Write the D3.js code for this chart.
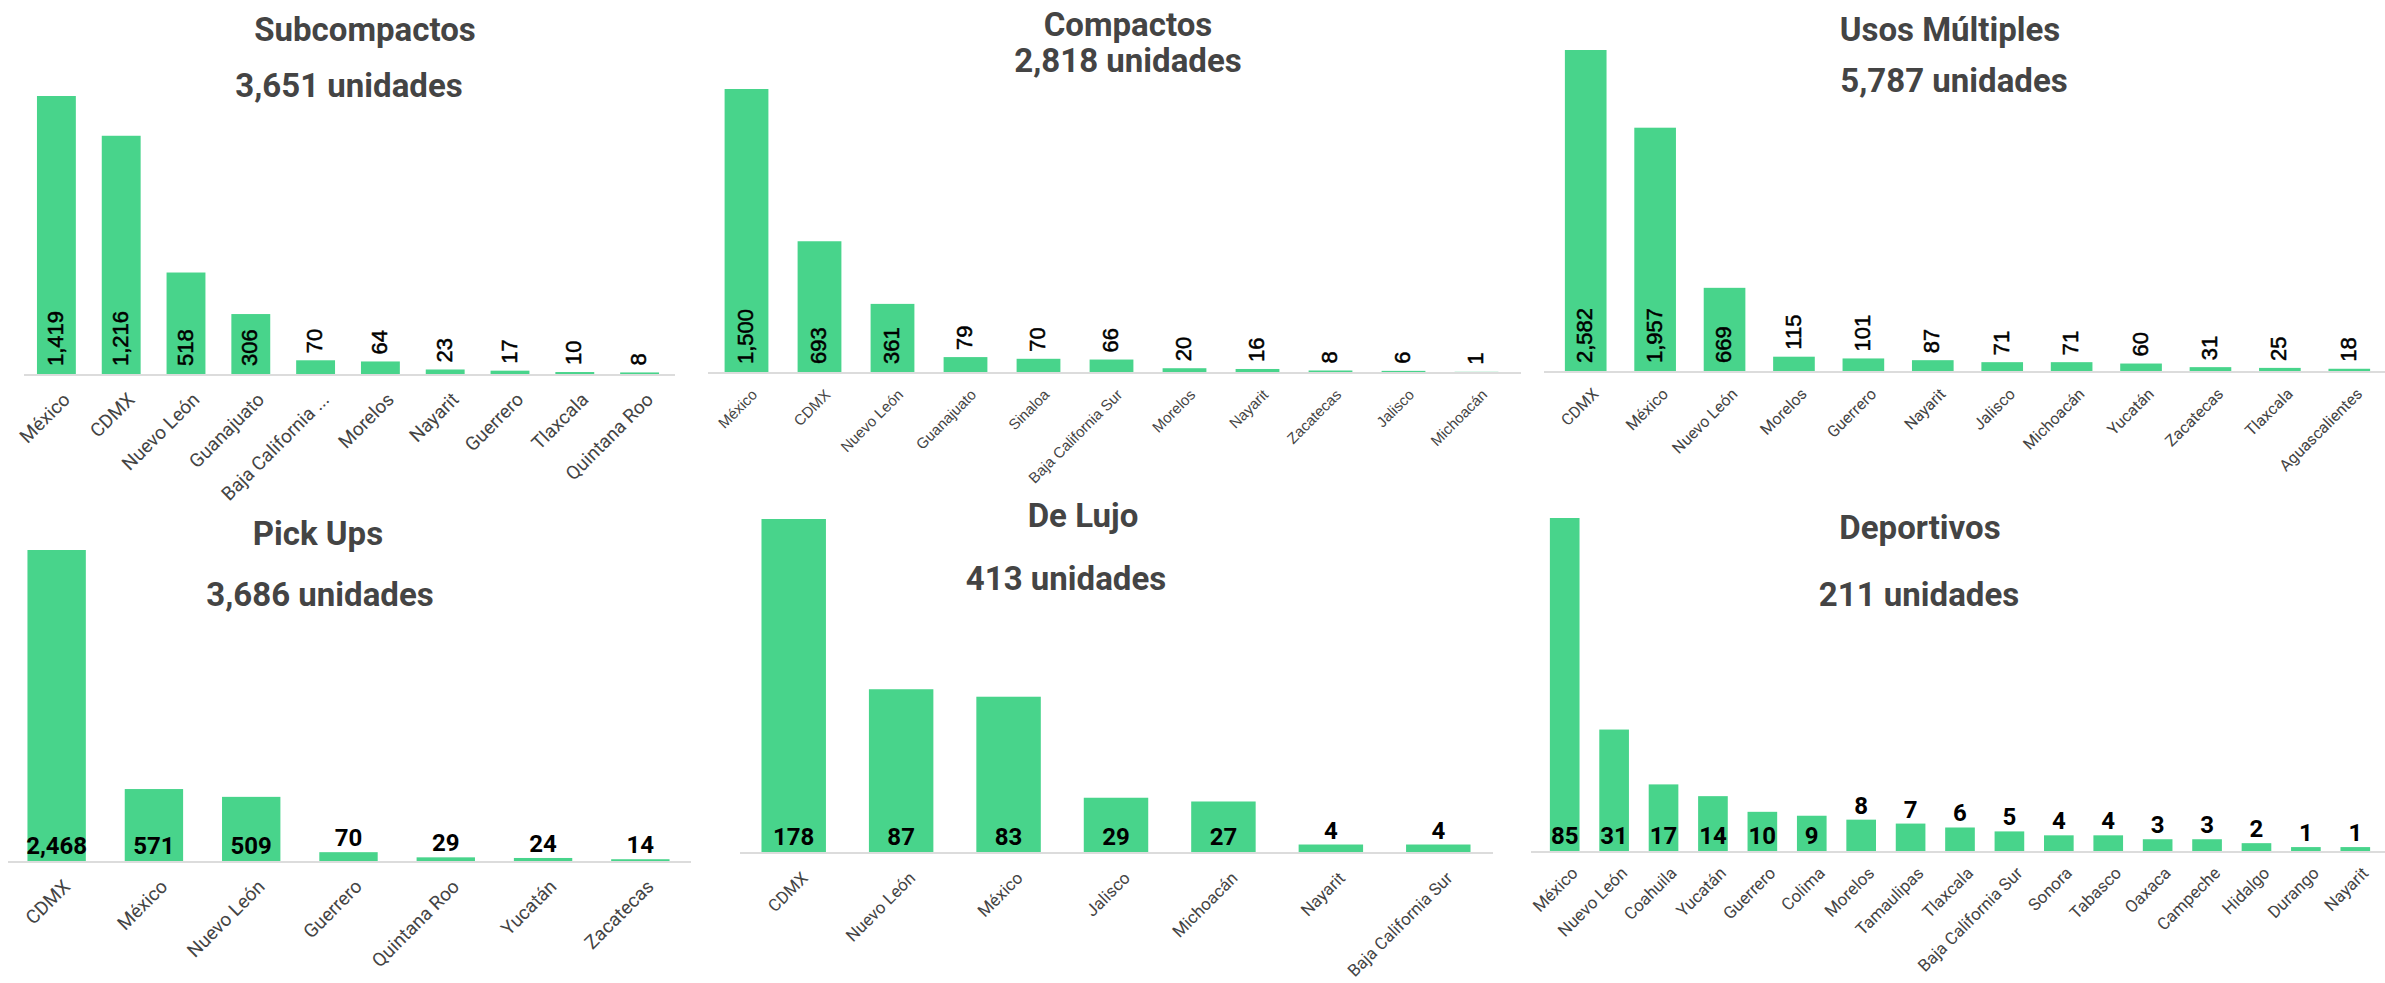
<!DOCTYPE html>
<html>
<head>
<meta charset="utf-8">
<script src="https://cdn.jsdelivr.net/npm/d3@7/dist/d3.min.js"></script>
<style>
body{ margin:0; background:#fff; }
svg text{ font-family: Roboto, sans-serif; }
.title{ font-weight:700; fill:#444; }
.cat{ fill:#444; }
.val{ fill:#000; }
</style>
</head>
<body>
<svg></svg>
<script>
// datos
var subcompactosCats = ["México","CDMX","Nuevo León","Guanajuato","Baja California ...","Morelos","Nayarit","Guerrero","Tlaxcala","Quintana Roo"];
var subcompactosVals = [1419,1216,518,306,70,64,23,17,10,8];

var compactosCats = ["México","CDMX","Nuevo León","Guanajuato","Sinaloa","Baja California Sur","Morelos","Nayarit","Zacatecas","Jalisco","Michoacán"];
var compactosVals = [1500,693,361,79,70,66,20,16,8,6,1];

var usosCats = ["CDMX","México","Nuevo León","Morelos","Guerrero","Nayarit","Jalisco","Michoacán","Yucatán","Zacatecas","Tlaxcala","Aguascalientes"];
var usosVals = [2582,1957,669,115,101,87,71,71,60,31,25,18];

var pickupsCats = ["CDMX","México","Nuevo León","Guerrero","Quintana Roo","Yucatán","Zacatecas"];
var pickupsVals = [2468,571,509,70,29,24,14];

var lujoCats = ["CDMX","Nuevo León","México","Jalisco","Michoacán","Nayarit","Baja California Sur"];
var lujoVals = [178,87,83,29,27,4,4];

var deportivosCats = ["México","Nuevo León","Coahuila","Yucatán","Guerrero","Colima","Morelos","Tamaulipas","Tlaxcala","Baja California Sur","Sonora","Tabasco","Oaxaca","Campeche","Hidalgo","Durango","Nayarit"];
var deportivosVals = [85,31,17,14,10,9,8,7,6,5,4,4,3,3,2,1,1];

var titles = ["Subcompactos","Compactos","Usos Múltiples","Pick Ups","De Lujo","Deportivos"];
var totals = ["3,651 unidades","2,818 unidades","5,787 unidades","3,686 unidades","413 unidades","211 unidades"];

var width = 2385, height = 983;
var green = "#48d48b";
var fmt = d3.format(",");

var svg = d3.select("svg").attr("width", width).attr("height", height);

// layout of each panel
var panels = [
  {cats: subcompactosCats, vals: subcompactosVals, x0: 24, x1: 672, ax0: 24, ax1: 675, base: 374, top: 96,
   tx: 365, ty: 41, sx: 349, sy: 97, rot: true, catFont: "Roboto", catSize: 19, cdx: 10, cdy: 22},
  {cats: compactosCats, vals: compactosVals, x0: 710, x1: 1513, ax0: 708, ax1: 1521, base: 372, top: 89,
   tx: 1128, ty: 36, sx: 1128, sy: 72, rot: true, catFont: "Liberation Sans", catSize: 15, cdx: 8, cdy: 20},
  {cats: usosCats, vals: usosVals, x0: 1551, x1: 2384, ax0: 1544, ax1: 2385, base: 371, top: 50,
   tx: 1950, ty: 41, sx: 1954, sy: 92, rot: true, catFont: "Roboto", catSize: 16, cdx: 10, cdy: 20},
  {cats: pickupsCats, vals: pickupsVals, x0: 8, x1: 689, ax0: 8, ax1: 691, base: 861, top: 550,
   tx: 318, ty: 545, sx: 320, sy: 606, rot: false, catFont: "Roboto", catSize: 19, cdx: 10, cdy: 22},
  {cats: lujoCats, vals: lujoVals, x0: 740, x1: 1492, ax0: 740, ax1: 1493, base: 852, top: 519,
   tx: 1083, ty: 527, sx: 1066, sy: 590, rot: false, catFont: "Roboto", catSize: 17, cdx: 11, cdy: 23},
  {cats: deportivosCats, vals: deportivosVals, x0: 1540, x1: 2380, ax0: 1531, ax1: 2385, base: 851, top: 518,
   tx: 1920, ty: 539, sx: 1919, sy: 606, rot: false, catFont: "Roboto", catSize: 17, cdx: 10, cdy: 19}
];

panels.forEach(function(p, i) {
  var g = svg.append("g");
  var data = p.cats.map(function(c, j) { return {cat: c, val: p.vals[j]}; });

  var x = d3.scaleBand().domain(p.cats).range([p.x0, p.x1])
      .paddingInner(0.4).paddingOuter(0.2);
  var y = d3.scaleLinear().domain([0, d3.max(p.vals)]).range([p.base, p.top]);

  g.append("line")
    .attr("x1", p.ax0).attr("x2", p.ax1)
    .attr("y1", p.base + 1).attr("y2", p.base + 1)
    .style("stroke", "#dcdcdc").style("stroke-width", 2);

  g.selectAll("rect").data(data).enter().append("rect")
    .attr("x", function(d) { return x(d.cat); })
    .attr("y", function(d) { return y(d.val); })
    .attr("width", x.bandwidth())
    .attr("height", function(d) { return p.base - y(d.val); })
    .style("fill", green);

  // value labels
  var vl = g.selectAll("text.val").data(data).enter().append("text")
    .attr("class", "val")
    .text(function(d) { return fmt(d.val); });

  if (p.rot) {
    vl.style("font-family", "'Liberation Sans', Arial, sans-serif")
      .style("font-size", "22px")
      .style("stroke", "#000").style("stroke-width", 0.5)
      .attr("dy", "0.3em")
      .attr("text-anchor", "start")
      .attr("transform", function(d) {
        var len = this.getComputedTextLength();
        var h = p.base - y(d.val);
        var yy = h >= len + 12 ? p.base - 8 : y(d.val) - 7;
        return "translate(" + (x(d.cat) + x.bandwidth() / 2) + "," + yy + ") rotate(-90)";
      });
  } else {
    vl.style("font-size", "24px")
      .style("font-weight", 700)
      .attr("text-anchor", "middle")
      .attr("x", function(d) { return x(d.cat) + x.bandwidth() / 2; })
      .attr("y", function(d) {
        var h = p.base - y(d.val);
        return h > 33 ? p.base - 7 : y(d.val) - 6;
      });
  }

  // category labels
  g.selectAll("text.cat").data(data).enter().append("text")
    .attr("class", "cat")
    .style("font-family", p.catFont)
    .style("font-size", p.catSize + "px")
    .attr("text-anchor", "end")
    .attr("dy", "0.35em")
    .attr("transform", function(d) {
      return "translate(" + (x(d.cat) + x.bandwidth() / 2 + p.cdx) + "," + (p.base + p.cdy) + ") rotate(-45)";
    })
    .text(function(d) { return d.cat; });

  g.append("text").attr("class", "title")
    .attr("x", p.tx).attr("y", p.ty)
    .attr("text-anchor", "middle")
    .style("font-size", "33px")
    .text(titles[i]);

  g.append("text").attr("class", "title")
    .attr("x", p.sx).attr("y", p.sy)
    .attr("text-anchor", "middle")
    .style("font-size", "33px")
    .text(totals[i]);
});
</script>
</body>
</html>
